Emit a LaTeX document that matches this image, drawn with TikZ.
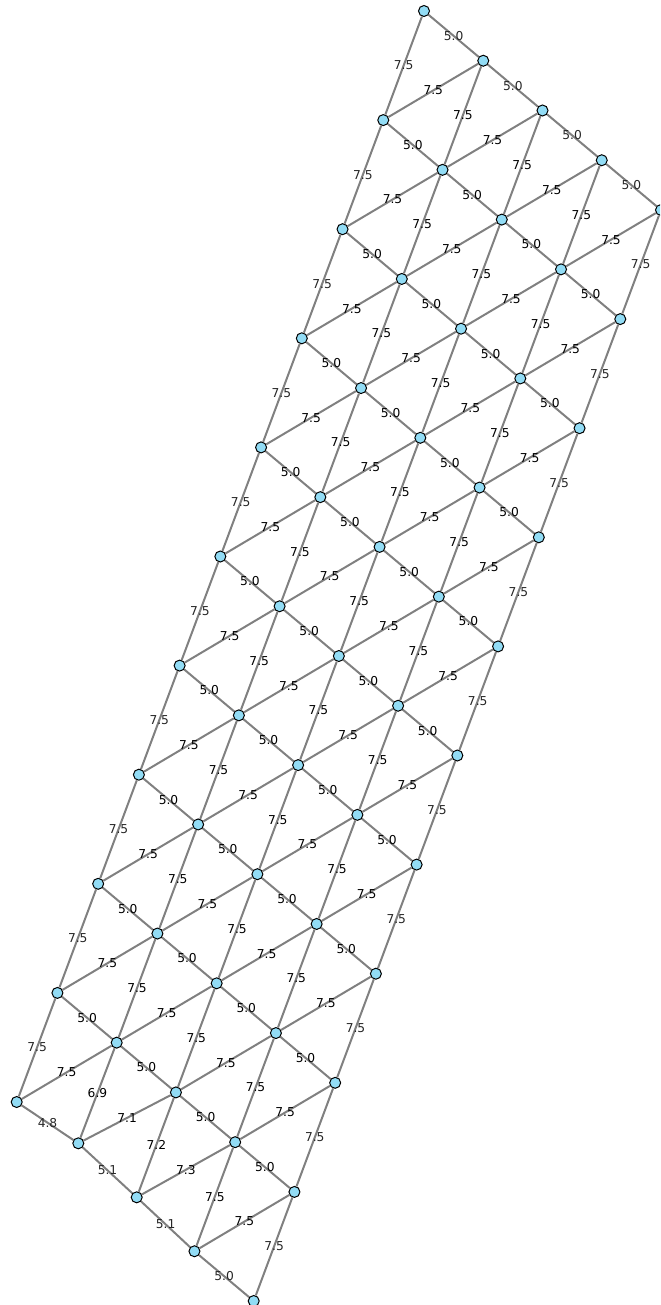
\documentclass[tikz,border=0pt]{standalone}
\usepackage{fontspec}
\setmainfont{DejaVu Sans}
\definecolor{vfill}{RGB}{146,220,245}
\definecolor{lgray}{RGB}{128,128,128}
\pgfdeclarelayer{bg}
\pgfsetlayers{bg,main}
\tikzset{
  vtx/.style={circle,draw=black,line width=1bp,fill=vfill,minimum size=11bp,inner sep=0pt},
  edge/.style={draw=lgray,line width=2bp},
  lab/.style={font=\fontsize{12.3}{13}\selectfont,text=black,inner sep=0pt},
}
\begin{document}
\begin{tikzpicture}[x=1bp,y=-1bp]
\useasboundingbox (0,0) rectangle (660,1305);
\clip (0,0) rectangle (660,1305);
% vertices
\foreach \i in {0,...,4}{
  \foreach \j in {0,...,10}{
    \ifnum\j=10
      \ifnum\i=1
        \node[vtx] (n-\i-\j) at (78.3,1143.3) {};
      \else\ifnum\i=2
        \node[vtx] (n-\i-\j) at (136.7,1197.3) {};
      \else
        \node[vtx] (n-\i-\j) at ({424+59.25*\i-40.73*\j},{11+49.75*\i+109.1*\j}) {};
      \fi\fi
    \else
      \node[vtx] (n-\i-\j) at ({424+59.25*\i-40.73*\j},{11+49.75*\i+109.1*\j}) {};
    \fi
  }
}
\begin{pgfonlayer}{bg}
% edges of length 5.0 (along the top edge direction)
\foreach \i in {0,...,3}{
  \pgfmathtruncatemacro{\ii}{\i+1}
  \foreach \j in {0,...,10}{
    \def\lc{black}
    \ifnum\j=0 \def\lc{black!85}\fi
    \ifnum\j=10 \def\lc{black!85}\fi
    \pgfmathtruncatemacro{\sk}{and(\j==10,\i<3)}
    \ifnum\sk=0
      \draw[edge] (n-\i-\j) -- node[lab,text=\lc]{5.0} (n-\ii-\j);
    \fi
  }
}
% edges of length 7.5 (along the left edge direction)
\foreach \i in {0,...,4}{
  \foreach \j in {0,...,9}{
    \pgfmathtruncatemacro{\jj}{\j+1}
    \def\lc{black}
    \ifnum\i=0 \def\lc{black!85}\fi
    \ifnum\i=4 \def\lc{black!85}\fi
    \pgfmathtruncatemacro{\sk}{and(\j==9,and(\i>0,\i<3))}
    \ifnum\sk=0
      \draw[edge] (n-\i-\j) -- node[lab,text=\lc]{7.5} (n-\i-\jj);
    \fi
  }
}
% diagonal edges
\foreach \i in {0,...,3}{
  \pgfmathtruncatemacro{\ii}{\i+1}
  \foreach \j in {0,...,9}{
    \pgfmathtruncatemacro{\jj}{\j+1}
    \pgfmathtruncatemacro{\sk}{and(\j==9,and(\i>0,\i<3))}
    \ifnum\sk=0
      \draw[edge] (n-\ii-\j) -- node[lab]{7.5} (n-\i-\jj);
    \fi
  }
}
% distorted bottom corner
\draw[edge] (n-0-10) -- node[lab,text=black!85]{4.8} (n-1-10);
\draw[edge] (n-1-10) -- node[lab,text=black!85]{5.1} (n-2-10);
\draw[edge] (n-2-10) -- node[lab,text=black!85]{5.1} (n-3-10);
\draw[edge] (n-1-9) -- node[lab]{6.9} (n-1-10);
\draw[edge] (n-2-9) -- node[lab]{7.2} (n-2-10);
\draw[edge] (n-2-9) -- node[lab]{7.1} (n-1-10);
\draw[edge] (n-3-9) -- node[lab]{7.3} (n-2-10);
\end{pgfonlayer}
\end{tikzpicture}
\end{document}
